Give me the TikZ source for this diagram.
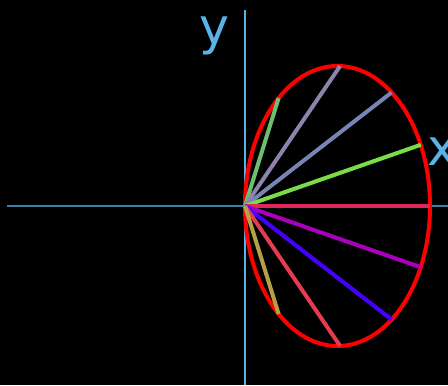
\documentclass[tikz,border=0pt]{standalone}
\usepackage{fontspec}
\setsansfont{DejaVu Sans}
\usetikzlibrary{positioning}
\definecolor{axisv}{RGB}{90,178,230}
\definecolor{axish}{RGB}{58,128,170}
\definecolor{rayA}{RGB}{108,190,112}
\definecolor{rayB}{RGB}{140,132,172}
\definecolor{rayC}{RGB}{120,132,182}
\definecolor{rayD}{RGB}{122,220,72}
\definecolor{rayE}{RGB}{222,40,92}
\definecolor{rayF}{RGB}{170,0,190}
\definecolor{rayG}{RGB}{70,0,255}
\definecolor{rayH}{RGB}{230,60,80}
\definecolor{rayI}{RGB}{182,160,70}
\begin{document}
\begin{tikzpicture}[x=75pt,y=75pt,
  axis/.style={line width=0.9pt},
  ray/.style={line width=3pt},
  lbl/.style={text=axisv,font=\sffamily\fontsize{38}{40}\selectfont,inner sep=0pt,anchor=base}]
		% 背景
		\fill[black] (-2.45,-1.79) rectangle (2.03,2.06);
		\useasboundingbox (-2.45,-1.79) rectangle (2.03,2.06);
		% 坐标轴
		\coordinate (O) at (0,0);
		\coordinate (xl) at (-2.38,0);
		\coordinate (xr) at (2.03,0);
		\coordinate (yt) at (0,1.96);
		\coordinate (yb) at (0,-1.79);
		\draw[axis,axish] (xl) -- (xr);
		\draw[axis,axisv] (yb) -- (yt);
		\node[lbl] (ylabel) at (-0.31,1.61) {y};
		\node[lbl] (xlabel) at (1.97,0.41) {x};
		% 椭圆
		\draw[ray,red] (0.925,0) ellipse (0.925 and 1.40);
		% 从原点出发的射线
		\foreach \ang/\col [count=\i] in {72.7/rayA,55.8/rayB,37.75/rayC,19.2/rayD,0/rayE,-19.2/rayF,-37.75/rayG,-55.8/rayH,-72.7/rayI}{
			\pgfmathsetmacro{\r}{3.626*cos(\ang)/(1.96*cos(\ang)^2+0.8556*sin(\ang)^2)}
			\coordinate (P\i) at (\ang:\r);
			\draw[ray,\col] (O) -- (P\i);
		}
\end{tikzpicture}
\end{document}
